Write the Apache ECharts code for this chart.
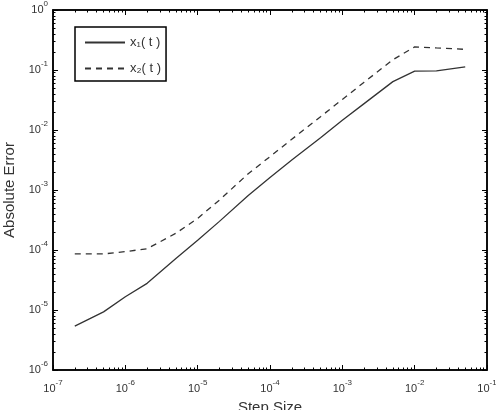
<!DOCTYPE html>
<html>
<head>
<meta charset="utf-8">
<script src="https://cdn.jsdelivr.net/npm/echarts@6/dist/echarts.min.js"></script>
<style>html,body{margin:0;padding:0;background:#fff;}#c{width:496px;height:410px;}</style>
</head>
<body>
<div id="c"></div>
<script>
const stepSizes = [2e-7, 5e-7, 1e-6, 2e-6, 5e-6, 1e-5, 2e-5, 5e-5, 1e-4, 2e-4, 5e-4, 1e-3, 2e-3, 5e-3, 1e-2, 2e-2, 5e-2];
const errX1 = [5.37e-6, 9.3e-6, 1.66e-5, 2.78e-5, 7.2e-5, 1.45e-4, 3.0e-4, 8.1e-4, 1.62e-3, 3.16e-3, 7.4e-3, 1.45e-2, 2.75e-2, 6.4e-2, 9.6e-2, 9.7e-2, 1.13e-1];
const errX2 = [8.6e-5, 8.6e-5, 9.4e-5, 1.05e-4, 1.9e-4, 3.36e-4, 6.8e-4, 1.87e-3, 3.6e-3, 7.0e-3, 1.67e-2, 3.23e-2, 6.25e-2, 1.48e-1, 2.43e-1, 2.33e-1, 2.21e-1];
const xTickExps = [-7, -6, -5, -4, -3, -2, -1];
const yTickExps = [-6, -5, -4, -3, -2, -1, 0];
const seriesNames = ['x\u2081( t )', 'x\u2082( t )'];

// decorative minor tick positions, as decade exponents
function minorExps(exps) {
  const out = [];
  for (let i = 0; i < exps.length - 1; i++) for (let k = 2; k <= 9; k++) out.push(exps[i] + Math.log10(k));
  return out;
}
const FONT = '"Liberation Sans", Arial, sans-serif';
const labelRich = {
  b: { fontSize: 11, fontFamily: FONT, color: '#333' },
  s: { fontSize: 8, fontFamily: FONT, color: '#333', padding: [0, 0, 12, 0] }
};
function fmtExp(v) { const e = Math.round(Math.log10(v)); return '{b|10}{s|' + e + '}'; }
function tickAxis(exps, position, minor, withLine) {
  return {
    type: 'value', min: exps[0], max: exps[exps.length - 1],
    position: position, silent: true,
    splitLine: { show: false }, axisLabel: { show: false },
    axisLine: { show: !!withLine, onZero: false, lineStyle: { color: '#000', width: 1.5 } },
    axisTick: { show: true, inside: true, length: minor ? 2.5 : 5,
      lineStyle: { color: '#000', width: 1 },
      customValues: minor ? minorExps(exps) : exps.slice() }
  };
}
const xAxes = [
  { type: 'log', logBase: 10,
    min: Math.pow(10, xTickExps[0]), max: Math.pow(10, xTickExps[xTickExps.length - 1]),
    position: 'bottom',
    splitLine: { show: false },
    axisLine: { show: true, onZero: false, lineStyle: { color: '#000', width: 1.5 } },
    axisTick: { show: true, inside: true, length: 5, lineStyle: { color: '#000', width: 1 } },
    axisLabel: { show: true, formatter: fmtExp, rich: labelRich, margin: 9 },
    name: 'Step Size', nameLocation: 'middle', nameGap: 30,
    nameTextStyle: { fontSize: 15, fontFamily: FONT, color: '#333' } },
  tickAxis(xTickExps, 'bottom', true, false),
  tickAxis(xTickExps, 'top', false, true),
  tickAxis(xTickExps, 'top', true, false)
];
const yAxes = [
  { type: 'log', logBase: 10,
    min: Math.pow(10, yTickExps[0]), max: Math.pow(10, yTickExps[yTickExps.length - 1]),
    position: 'left',
    splitLine: { show: false },
    axisLine: { show: true, onZero: false, lineStyle: { color: '#000', width: 1.5 } },
    axisTick: { show: true, inside: true, length: 5, lineStyle: { color: '#000', width: 1 } },
    axisLabel: { show: true, formatter: fmtExp, rich: labelRich, margin: 5 },
    name: 'Absolute Error', nameLocation: 'middle', nameGap: 30,
    nameTextStyle: { fontSize: 15, fontFamily: FONT, color: '#333' } },
  tickAxis(yTickExps, 'left', true, false),
  tickAxis(yTickExps, 'right', false, true),
  tickAxis(yTickExps, 'right', true, false)
];
const lineColor = '#333';
const chart = echarts.init(document.getElementById('c'), null, { renderer: 'canvas' });
chart.setOption({
  animation: false, backgroundColor: '#fff',
  grid: { left: 53, right: 9, top: 10, bottom: 40, containLabel: false, outerBoundsMode: 'none',
          show: true, borderColor: '#000', borderWidth: 1.5, backgroundColor: 'transparent' },
  xAxis: xAxes, yAxis: yAxes,
  legend: {
    orient: 'vertical', left: 75, top: 27,
    padding: [9, 5, 6, 9], itemGap: 13, itemWidth: 40, itemHeight: 14,
    borderColor: '#000', borderWidth: 1.5, backgroundColor: '#fff',
    itemStyle: { opacity: 0 },
    textStyle: { fontFamily: FONT, fontSize: 13, color: '#333' },
    data: seriesNames
  },
  series: [
    { name: seriesNames[0], type: 'line', symbol: 'none',
      data: stepSizes.map((s, i) => [s, errX1[i]]),
      lineStyle: { color: lineColor, width: 1.3 } },
    { name: seriesNames[1], type: 'line', symbol: 'none',
      data: stepSizes.map((s, i) => [s, errX2[i]]),
      lineStyle: { color: lineColor, width: 1.3, type: [6, 5] } }
  ]
});
</script>
</body>
</html>
